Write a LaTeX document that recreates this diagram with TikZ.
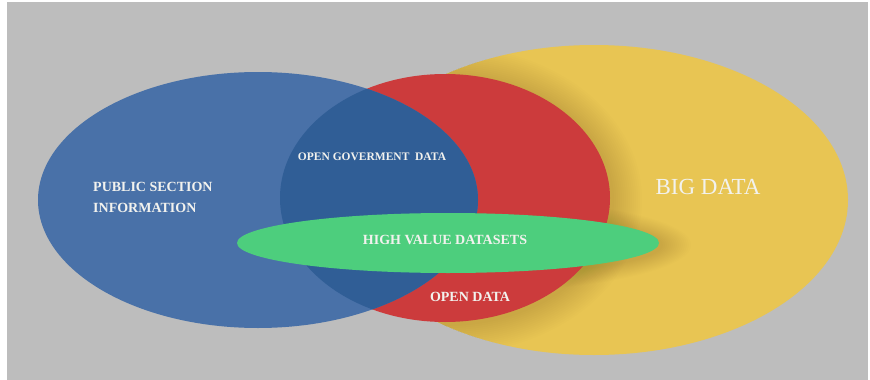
\documentclass[tikz,border=0pt]{standalone}
\usepackage{fontspec}
\setmainfont{Liberation Serif}
\usetikzlibrary{shapes.geometric}

\definecolor{bgGray}{HTML}{BDBDBD}
\definecolor{bigYellow}{HTML}{E8C553}
\definecolor{openRed}{HTML}{CC3B3C}
\definecolor{psiBlue}{HTML}{4971A8}
\definecolor{ogdBlue}{HTML}{305E96}
\definecolor{hvGreen}{HTML}{4DCE7D}
\definecolor{textWhite}{HTML}{F2F2EE}

\begin{document}
\begin{tikzpicture}[
        x=1pt,
        y=-1pt,
        set/.style={
                ellipse,
                draw=none,
                inner sep=0pt
            },
        settext/.style={
                text=textWhite,
                inner sep=0pt,
                font=\bfseries
            },
        halo/.style={
                fill=black!60!bigYellow,
                fill opacity=0.012
            }
    ]
    \fill[white] (0,0) rectangle (870,380);
    \fill[bgGray] (7,2) rectangle (868,380);

    \node[set, fill=bigYellow, minimum width=508pt, minimum height=310pt] (BigData) at (594,200) {};
    % soft shadows on the yellow set
    \begin{scope}
        \clip (BigData.center) ellipse [x radius=254, y radius=155];
        \foreach \s in {2,4,...,30} {
            \fill[halo] (447,200) ellipse [x radius=165+\s, y radius=124+\s];
            \fill[halo] (450,245) ellipse [x radius=211+\s, y radius=30+0.6*\s];
        }
    \end{scope}
    \node[set, fill=openRed, minimum width=330pt, minimum height=248pt] (OpenData) at (445,198) {};
    \node[set, fill=psiBlue, minimum width=440pt, minimum height=256pt] (PSI) at (258,200) {};
    % darker part where blue lies over red
    \begin{scope}
        \clip (OpenData.center) ellipse [x radius=165, y radius=124];
        \fill[ogdBlue] (PSI.center) ellipse [x radius=220, y radius=128];
    \end{scope}
    \node[set, fill=hvGreen, minimum width=422pt, minimum height=60pt] (HVD) at (448,243) {};

    \node[settext, anchor=west, align=left, font=\bfseries\fontsize{14}{21}\selectfont] (PSItext) at (93,197) {PUBLIC SECTION\\INFORMATION};
    \node[settext, font=\bfseries\fontsize{11.5}{13}\selectfont] (OGDtext) at (372,157) {OPEN GOVERMENT \ DATA};
    \node[settext, font=\bfseries\fontsize{14}{16}\selectfont] (HVDtext) at (445,240) {HIGH VALUE DATASETS};
    \node[settext, font=\bfseries\fontsize{14}{16}\selectfont] (ODtext) at (470,297) {OPEN DATA};
    \node[settext, font=\fontsize{23}{26}\selectfont] (BDtext) at (708,187) {BIG DATA};
\end{tikzpicture}
\end{document}
